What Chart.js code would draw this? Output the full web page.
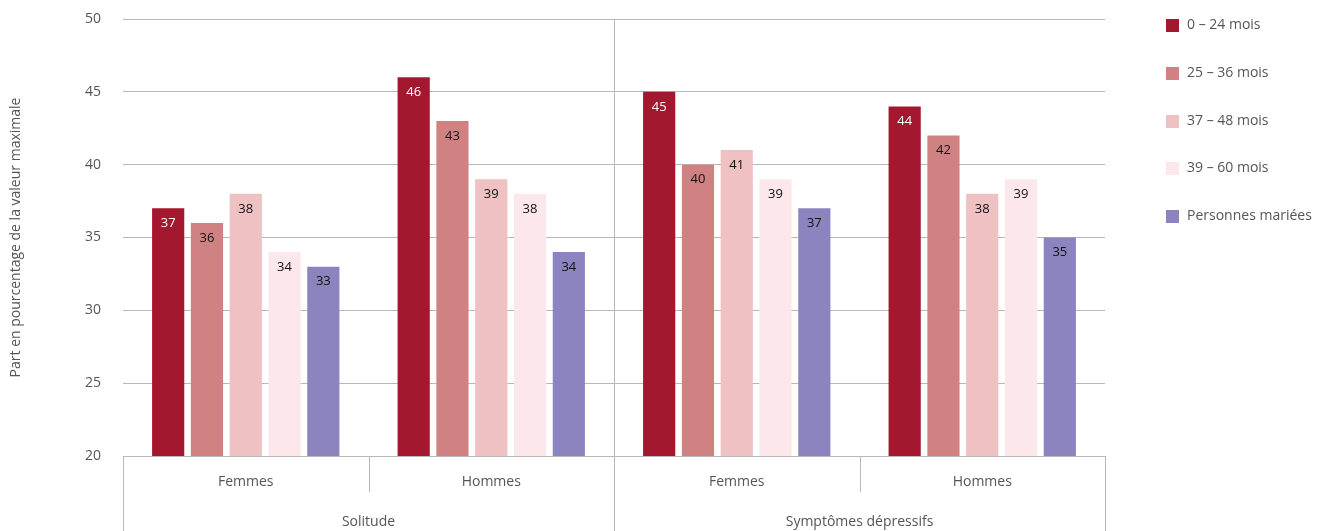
<!DOCTYPE html>
<html>
<head>
<meta charset="utf-8">
<script src="https://cdn.jsdelivr.net/npm/chart.js@4"></script>
<style>
  html, body { margin: 0; padding: 0; background: #fff; }
  #wrap { position: relative; width: 1335px; height: 531px; }
</style>
</head>
<body>
<div id="wrap"><canvas id="chart" width="1335" height="531"></canvas></div>
<script>
const groups = ["Solitude", "Symptômes dépressifs"];
const categories = ["Femmes", "Hommes", "Femmes", "Hommes"];
const seriesNames = ["0 – 24 mois", "25 – 36 mois", "37 – 48 mois", "39 – 60 mois", "Personnes mariées"];
const colors = ["#a3182f", "#d08282", "#efc1c2", "#fce8ea", "#8c84be"];
const mois0_24 = [37, 46, 45, 44];
const mois25_36 = [36, 43, 40, 42];
const mois37_48 = [38, 39, 41, 38];
const mois39_60 = [34, 38, 39, 39];
const maries = [33, 34, 37, 35];
const yTicks = [20, 25, 30, 35, 40, 45, 50];

const FONT = "'Open Sans', 'Noto Sans', sans-serif";
const GRID = "#b8b8b8";
const TEXT = "#555";

const values = [mois0_24, mois25_36, mois37_48, mois39_60, maries];

// labels inside bars, group axis, legend
const extras = {
  id: "extras",
  afterDatasetsDraw(chart) {
    const ctx = chart.ctx;
    ctx.save();
    ctx.font = "13px " + FONT;
    ctx.textAlign = "center";
    ctx.textBaseline = "middle";
    chart.data.datasets.forEach((ds, i) => {
      chart.getDatasetMeta(i).data.forEach((bar, j) => {
        ctx.fillStyle = i === 0 ? "#fff" : "#111";
        ctx.fillText(ds.data[j], bar.x, bar.y + 15);
      });
    });
    ctx.restore();
  },
  afterDraw(chart) {
    const ctx = chart.ctx;
    const x = chart.scales.x;
    const area = chart.chartArea;
    const half = (x.getPixelForValue(1) - x.getPixelForValue(0)) / 2;
    const bottom = chart.height;
    ctx.save();
    ctx.strokeStyle = GRID;
    ctx.lineWidth = 1;
    const vline = (px, y0, y1) => {
      px = Math.round(px) + 0.5;
      ctx.beginPath(); ctx.moveTo(px, y0); ctx.lineTo(px, y1); ctx.stroke();
    };
    // outer edges and group separator
    vline(x.getPixelForValue(0) - half, area.bottom, bottom);
    vline(x.getPixelForValue(3) + half, area.bottom, bottom);
    vline(x.getPixelForValue(1) + half, area.top, bottom);
    // sub separators
    vline(x.getPixelForValue(0) + half, area.bottom, area.bottom + 36);
    vline(x.getPixelForValue(2) + half, area.bottom, area.bottom + 36);

    ctx.fillStyle = TEXT;
    ctx.font = "14px " + FONT;
    ctx.textAlign = "center";
    ctx.textBaseline = "middle";
    categories.forEach((c, i) => ctx.fillText(c, x.getPixelForValue(i), area.bottom + 26));
    groups.forEach((g, k) => {
      const cx = (x.getPixelForValue(2 * k) + x.getPixelForValue(2 * k + 1)) / 2;
      ctx.fillText(g, cx, area.bottom + 66);
    });

    // legend
    ctx.textAlign = "left";
    seriesNames.forEach((name, i) => {
      const cy = 25 + i * 47.8;
      ctx.fillStyle = colors[i];
      ctx.fillRect(1166, Math.round(cy - 6), 13, 13);
      ctx.fillStyle = TEXT;
      ctx.fillText(name, 1187, cy);
    });
    ctx.restore();
  }
};

new Chart(document.getElementById("chart"), {
  type: "bar",
  data: {
    labels: categories,
    datasets: seriesNames.map((name, i) => ({
      label: name,
      data: values[i],
      backgroundColor: colors[i],
      barPercentage: 0.83,
      categoryPercentage: 0.79
    }))
  },
  options: {
    responsive: false,
    animation: false,
    layout: { padding: { top: 19, right: 230, left: 0, bottom: 0 } },
    plugins: { legend: { display: false }, tooltip: { enabled: false } },
    scales: {
      x: {
        ticks: { display: false },
        grid: { display: false },
        border: { display: false },
        afterFit(scale) { scale.height = 75; }
      },
      y: {
        min: 20,
        max: 50,
        afterBuildTicks(scale) { scale.ticks = yTicks.map(v => ({ value: v })); },
        ticks: {
          color: TEXT,
          font: { family: FONT, size: 14 },
          padding: 22
        },
        grid: { color: GRID, drawTicks: false },
        border: { display: false },
        title: {
          display: true,
          text: "Part en pourcentage de la valeur maximale",
          color: TEXT,
          font: { family: FONT, size: 14 },
          padding: { top: 8, bottom: 0 }
        },
        afterFit(scale) {
          scale.width = 123;
          scale.paddingTop = 0;
          scale.paddingBottom = 0;
        }
      }
    }
  },
  plugins: [extras]
});
</script>
</body>
</html>
